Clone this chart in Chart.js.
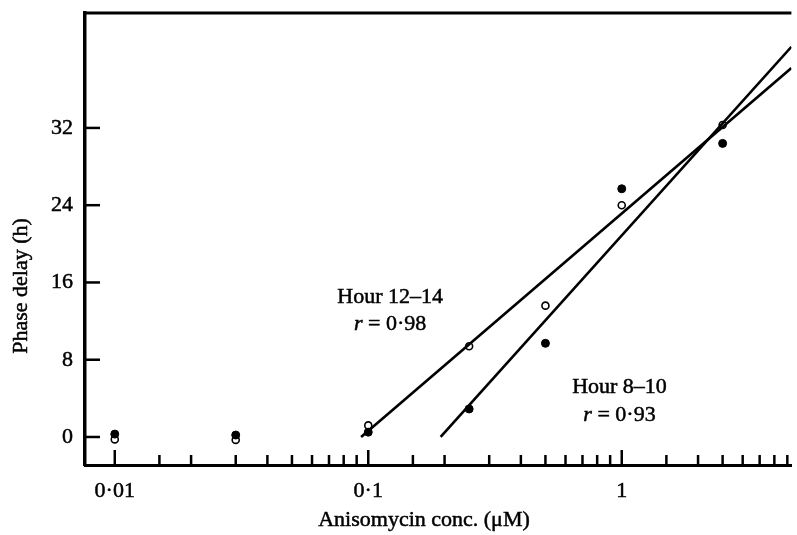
<!DOCTYPE html>
<html>
<head>
<meta charset="utf-8">
<title>Anisomycin phase delay</title>
<script src="https://cdn.jsdelivr.net/npm/chart.js@4.4.1/dist/chart.umd.min.js"></script>
<style>
    html, body { margin: 0; padding: 0; background: #fff; }
    #wrap { width: 797px; height: 535px; position: relative; }
</style>
</head>
<body>
<div id="wrap"><canvas id="delayChart"></canvas></div>
<script>
// ============================================
// DATA
// ============================================

const doses = [0.01, 0.03, 0.1, 0.25, 0.5, 1, 2.5];
const delayHour12to14 = [-0.25, -0.3, 1.2, 9.4, 13.6, 24.0, 32.3];   // open circles
const delayHour8to10 = [0.3, 0.2, 0.5, 2.9, 9.7, 25.7, 30.4];        // filled circles

// regression lines, two end points each
const fitXHour12to14 = [0.0937, 4.67];
const fitYHour12to14 = [0, 38.2];
const fitXHour8to10 = [0.193, 4.67];
const fitYHour8to10 = [0, 40.4];

const xTicks = [0.01, 0.1, 1];
const xTickLabels = ['0·01', '0·1', '1'];
const xMinorTicks = [
    0.015, 0.02, 0.03, 0.04, 0.05, 0.06, 0.07, 0.08, 0.09,
    0.15, 0.2, 0.3, 0.4, 0.5, 0.6, 0.7, 0.8, 0.9,
    1.5, 2, 2.5, 3, 3.5, 4, 4.5
];
const yTicks = [0, 8, 16, 24, 32];

// fit captions: name, r value, x, baseline of each line
const fitLabelNames = ['Hour 12–14', 'Hour 8–10'];
const fitLabelR = ['0·98', '0·93'];
const fitLabelX = [0.122, 0.98];
const fitLabelY = [13.9, 4.55];
const fitLabelRY = [11.1, 1.66];

const FONT = '"Liberation Serif", "Times New Roman", serif';
const INK = 0.5;   // thin outline so the serif text is not too light

// ============================================
// HELPERS
// ============================================

function toPoints(xs, ys) {
    return xs.map((x, i) => ({ x: x, y: ys[i] }));
}

function inkText(ctx, text, x, y) {
    ctx.fillText(text, x, y);
    ctx.strokeText(text, x, y);
}

// ticks point inward, the top border closes the frame
const frameTicks = {
    id: 'frameTicks',
    afterDraw(chart) {
        const { ctx, chartArea, scales } = chart;
        const xs = scales.x;
        const ys = scales.y;
        ctx.save();
        ctx.strokeStyle = '#000';
        ctx.lineCap = 'butt';

        ctx.lineWidth = 3;
        ctx.beginPath();
        ctx.moveTo(chartArea.left - 1.5, chartArea.top);
        ctx.lineTo(chartArea.right, chartArea.top);
        ctx.stroke();

        ctx.lineWidth = 2.5;
        xTicks.forEach(v => {
            const px = xs.getPixelForValue(v);
            ctx.beginPath();
            ctx.moveTo(px, chartArea.bottom);
            ctx.lineTo(px, chartArea.bottom - 15);
            ctx.stroke();
        });
        xMinorTicks.forEach(v => {
            const px = xs.getPixelForValue(v);
            ctx.beginPath();
            ctx.moveTo(px, chartArea.bottom);
            ctx.lineTo(px, chartArea.bottom - 10);
            ctx.stroke();
        });
        yTicks.forEach(v => {
            const py = ys.getPixelForValue(v);
            ctx.beginPath();
            ctx.moveTo(chartArea.left, py);
            ctx.lineTo(chartArea.left + 15, py);
            ctx.stroke();
        });
        ctx.restore();
    }
};

// "Hour ..." captions with an italic r, plus both axis titles
const captions = {
    id: 'captions',
    afterDraw(chart) {
        const { ctx, scales } = chart;
        ctx.save();
        ctx.fillStyle = '#000';
        ctx.strokeStyle = '#000';
        ctx.lineWidth = INK;
        ctx.textBaseline = 'alphabetic';

        fitLabelNames.forEach((name, i) => {
            const cx = scales.x.getPixelForValue(fitLabelX[i]);
            ctx.font = '22px ' + FONT;
            ctx.textAlign = 'center';
            inkText(ctx, name, cx, scales.y.getPixelForValue(fitLabelY[i]));

            const rest = ' = ' + fitLabelR[i];
            ctx.font = 'italic 22px ' + FONT;
            const wr = ctx.measureText('r').width;
            ctx.font = '22px ' + FONT;
            const wRest = ctx.measureText(rest).width;
            const x0 = cx - (wr + wRest) / 2;
            const by = scales.y.getPixelForValue(fitLabelRY[i]);
            ctx.textAlign = 'left';
            ctx.font = 'italic 22px ' + FONT;
            inkText(ctx, 'r', x0, by);
            ctx.font = '22px ' + FONT;
            inkText(ctx, rest, x0 + wr, by);
        });

        ctx.font = '22px ' + FONT;
        ctx.textAlign = 'center';
        inkText(ctx, 'Anisomycin conc. (μM)', 424, 526);

        ctx.translate(27, 286);
        ctx.rotate(-Math.PI / 2);
        inkText(ctx, 'Phase delay (h)', 0, 0);
        ctx.restore();
    }
};

// ============================================
// CHART
// ============================================

const ctx = document.getElementById('delayChart').getContext('2d');

new Chart(ctx, {
    type: 'scatter',
    data: {
        datasets: [
            {
                label: 'Hour 12–14 fit',
                data: toPoints(fitXHour12to14, fitYHour12to14),
                showLine: true,
                borderColor: '#000',
                borderWidth: 2.6,
                pointRadius: 0
            },
            {
                label: 'Hour 8–10 fit',
                data: toPoints(fitXHour8to10, fitYHour8to10),
                showLine: true,
                borderColor: '#000',
                borderWidth: 2.6,
                pointRadius: 0
            },
            {
                label: 'Hour 8–10',
                data: toPoints(doses, delayHour8to10),
                pointRadius: 4,
                pointBackgroundColor: '#000',
                pointBorderColor: '#000',
                pointBorderWidth: 1
            },
            {
                label: 'Hour 12–14',
                data: toPoints(doses, delayHour12to14),
                pointRadius: 3.5,
                pointBackgroundColor: '#fff',
                pointBorderColor: '#000',
                pointBorderWidth: 1.6
            }
        ]
    },
    options: {
        responsive: true,
        maintainAspectRatio: false,
        animation: false,
        layout: { padding: { top: 13, right: 0, bottom: 0, left: 0 } },
        plugins: {
            legend: { display: false },
            tooltip: { enabled: false }
        },
        scales: {
            x: {
                type: 'logarithmic',
                min: 0.00763,
                max: 4.67,
                afterBuildTicks: (scale) => { scale.ticks = xTicks.map(v => ({ value: v })); },
                afterFit: (scale) => {
                    scale.height = 70;
                    scale.paddingLeft = 0;
                    scale.paddingRight = 0;
                },
                grid: { display: false, drawTicks: false },
                border: { display: true, color: '#000', width: 3 },
                ticks: {
                    color: '#000',
                    font: { family: FONT, size: 22 },
                    textStrokeColor: '#000',
                    textStrokeWidth: INK,
                    padding: 13,
                    maxRotation: 0,
                    autoSkip: false,
                    callback: (value) => xTickLabels[xTicks.indexOf(value)]
                }
            },
            y: {
                type: 'linear',
                min: -2.9,
                max: 43.9,
                afterBuildTicks: (scale) => { scale.ticks = yTicks.map(v => ({ value: v })); },
                afterFit: (scale) => {
                    scale.width = 85;
                    scale.paddingTop = 0;
                    scale.paddingBottom = 0;
                },
                grid: { display: false, drawTicks: false },
                border: { display: true, color: '#000', width: 3.5 },
                ticks: {
                    color: '#000',
                    font: { family: FONT, size: 22 },
                    textStrokeColor: '#000',
                    textStrokeWidth: INK,
                    padding: 12
                }
            }
        }
    },
    plugins: [frameTicks, captions]
});
</script>
</body>
</html>
